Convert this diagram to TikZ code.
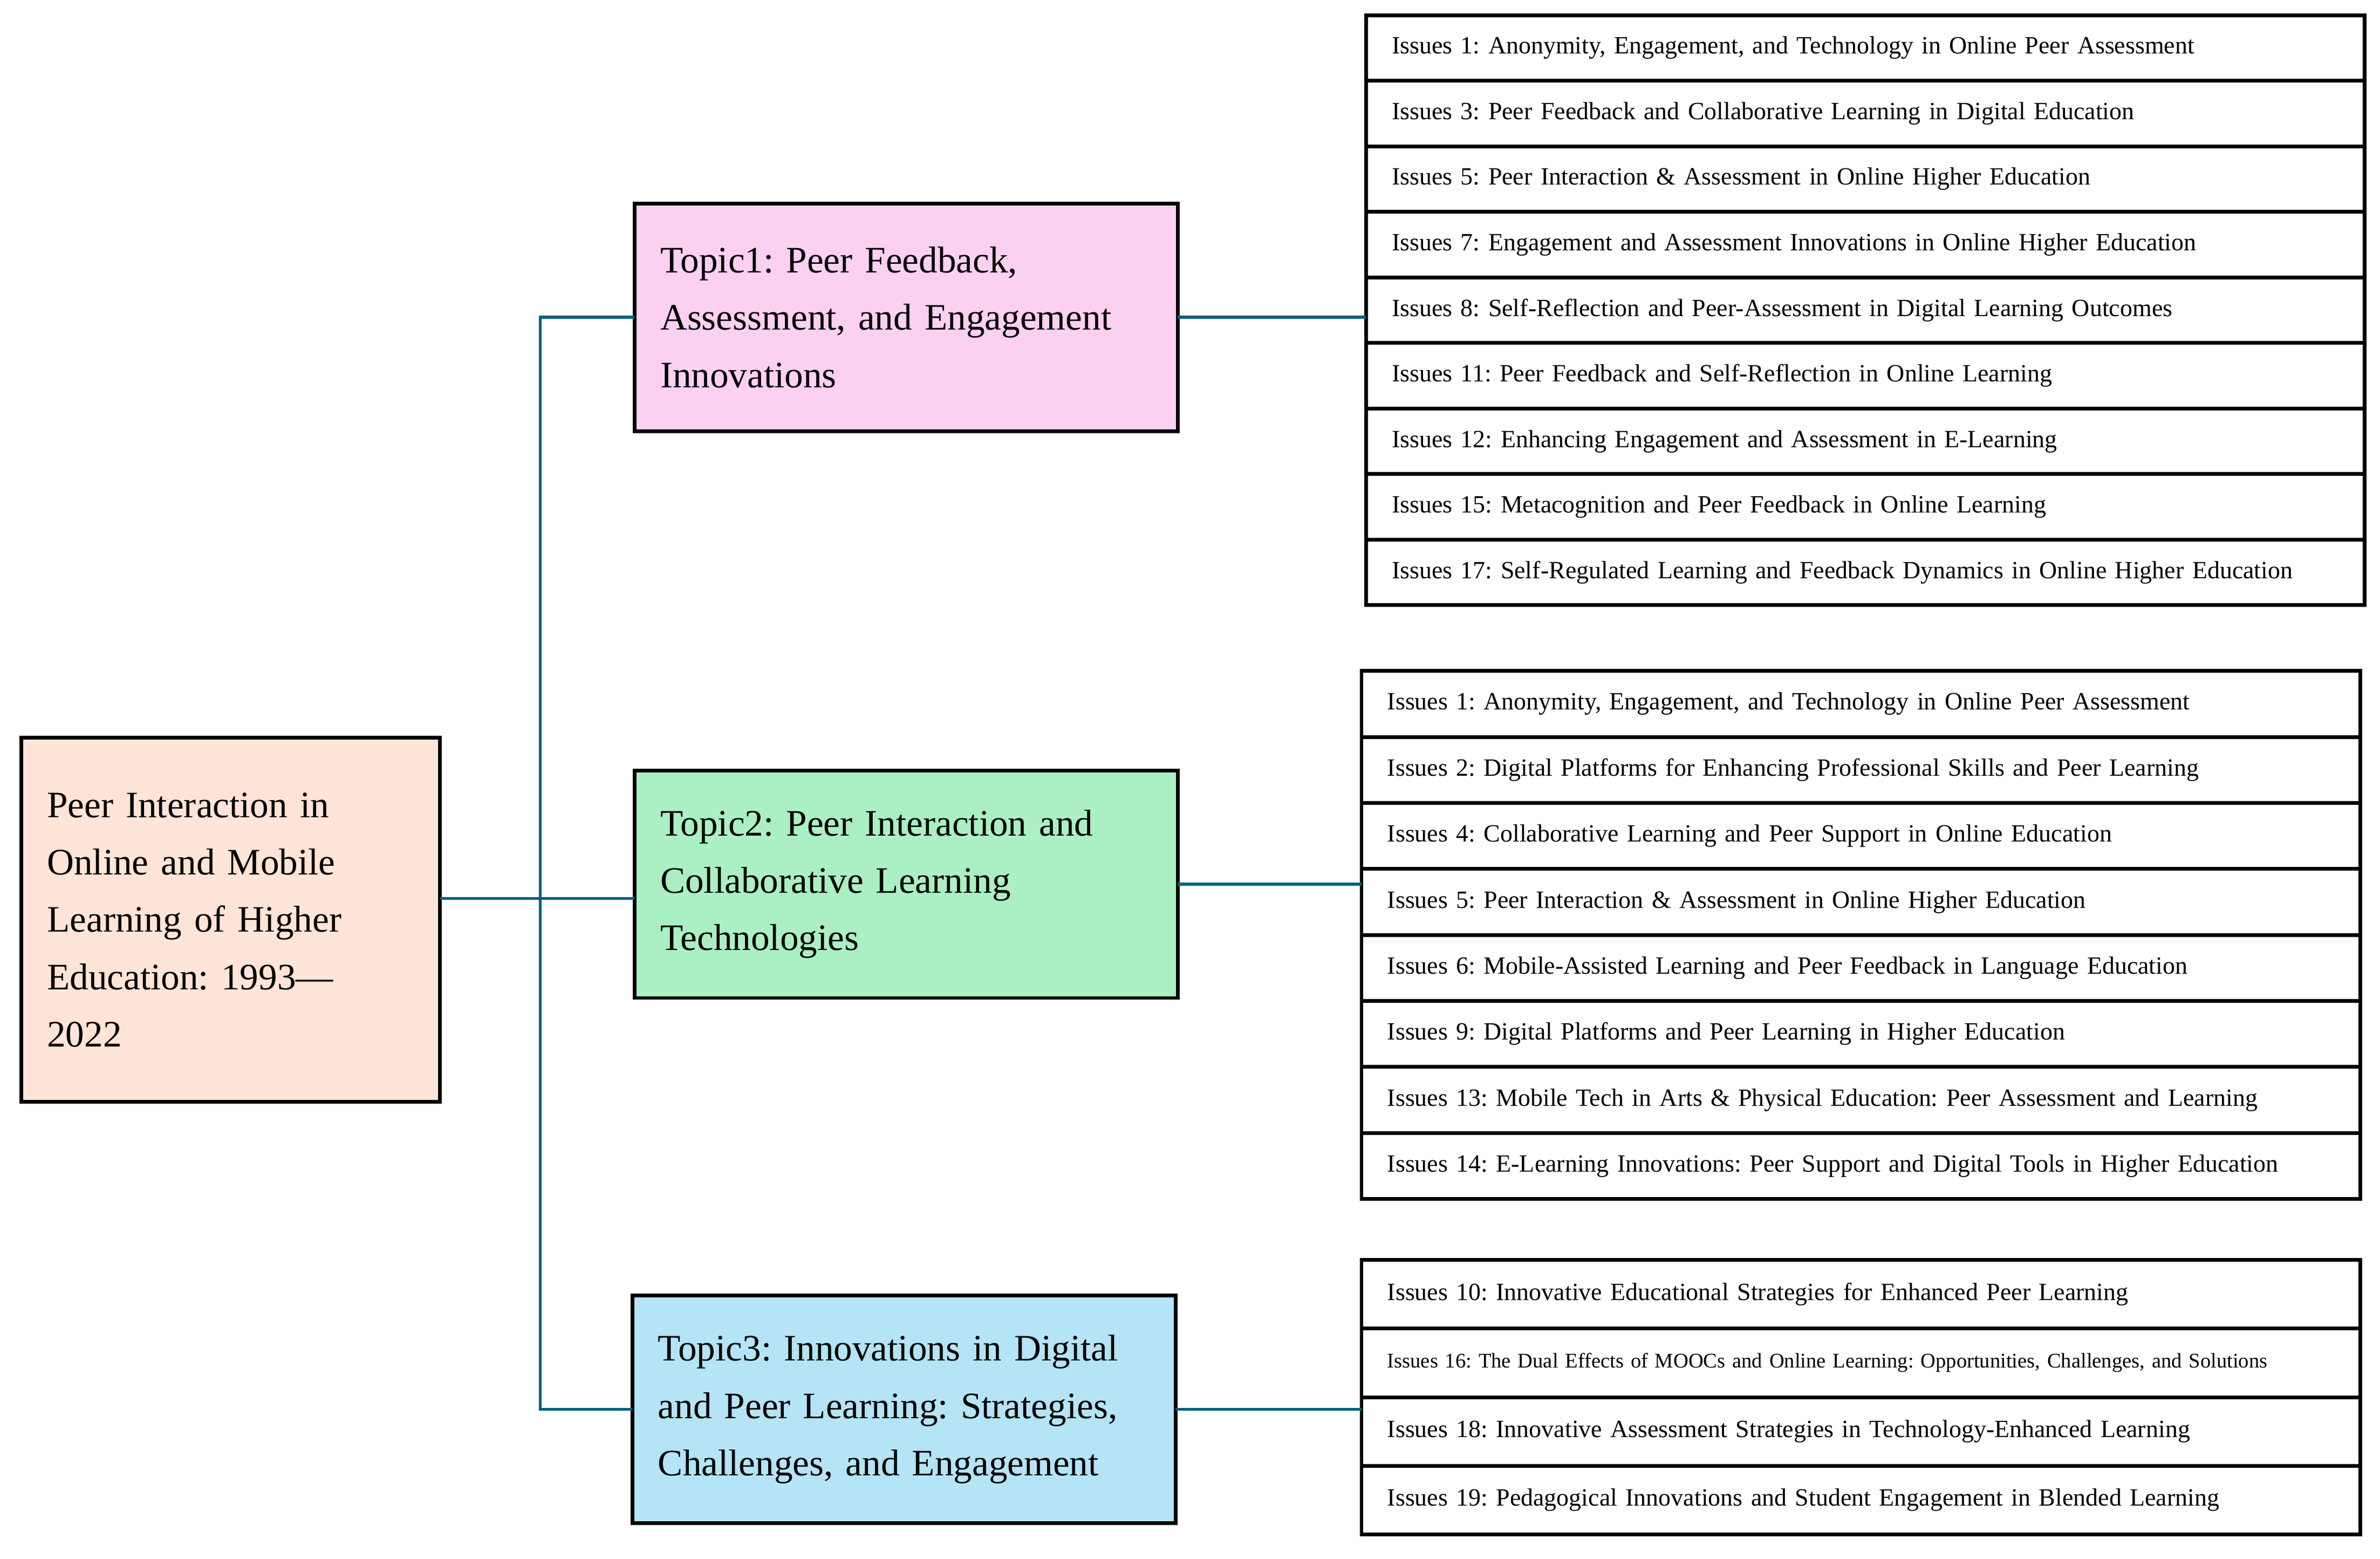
\documentclass[tikz,border=0pt]{standalone}
\usepackage{fontspec}
\setmainfont{Liberation Serif}
\usetikzlibrary{positioning}
\definecolor{rootfill}{RGB}{255,228,215}
\definecolor{onefill}{RGB}{252,208,240}
\definecolor{twofill}{RGB}{170,240,195}
\definecolor{threefill}{RGB}{180,228,245}
\definecolor{linkblue}{RGB}{0,96,128}
\frenchspacing
\hyphenpenalty=10000

\begin{document}
\begin{tikzpicture}
    [
        x=0.02cm, y=-0.02cm,
        box style/.style={draw, line width=1.4pt, align=left, inner xsep=0.34cm, outer sep=0pt, font=\fontsize{14}{21.5}\selectfont},
        topic style/.style={box style, minimum width=7.16cm, text width=6.48cm, minimum height=3cm},
        row style/.style={draw, line width=1.4pt, outer sep=0pt, inner xsep=0.34cm, inner ysep=0pt, minimum width=13.16cm, text width=12.48cm, align=left, font=\fontsize{9.3}{11}\selectfont},
        link style/.style={linkblue, line width=1.1pt}
    ]
    \useasboundingbox (0,0) rectangle (1568,1027);
    % root and topics
    \node[box style, fill=rootfill, minimum width=5.52cm, text width=4.84cm, minimum height=4.8cm] (root) at (152,606)
        {Peer Interaction in\\Online and Mobile\\Learning of Higher\\Education: 1993---\\2022};
    \node[topic style, fill=onefill] (t1) at (597,209) {Topic1: Peer Feedback,\\Assessment, and Engagement\\Innovations};
    \node[topic style, fill=twofill] (t2) at (597,582.5) {Topic2: Peer Interaction and\\Collaborative Learning\\Technologies};
    \node[topic style, fill=threefill] (t3) at (595.5,928.5) {Topic3: Innovations in Digital\\and Peer Learning: Strategies,\\Challenges, and Engagement};
    % issue lists
    \node[row style, minimum height=0.864cm, anchor=north west] (a1) at (900,10) {Issues 1: Anonymity, Engagement, and Technology in Online Peer Assessment};
    \foreach \n/\p/\txt in {2/1/{Issues 3: Peer Feedback and Collaborative Learning in Digital Education},
        3/2/{Issues 5: Peer Interaction \& Assessment in Online Higher Education},
        4/3/{Issues 7: Engagement and Assessment Innovations in Online Higher Education},
        5/4/{Issues 8: Self-Reflection and Peer-Assessment in Digital Learning Outcomes},
        6/5/{Issues 11: Peer Feedback and Self-Reflection in Online Learning},
        7/6/{Issues 12: Enhancing Engagement and Assessment in E-Learning},
        8/7/{Issues 15: Metacognition and Peer Feedback in Online Learning},
        9/8/{Issues 17: Self-Regulated Learning and Feedback Dynamics in Online Higher Education}}
        \node[row style, minimum height=0.864cm, below=0pt of a\p] (a\n) {\txt};
    \node[row style, minimum height=0.87cm, anchor=north west] (b1) at (897,442) {Issues 1: Anonymity, Engagement, and Technology in Online Peer Assessment};
    \foreach \n/\p/\txt in {2/1/{Issues 2: Digital Platforms for Enhancing Professional Skills and Peer Learning},
        3/2/{Issues 4: Collaborative Learning and Peer Support in Online Education},
        4/3/{Issues 5: Peer Interaction \& Assessment in Online Higher Education},
        5/4/{Issues 6: Mobile-Assisted Learning and Peer Feedback in Language Education},
        6/5/{Issues 9: Digital Platforms and Peer Learning in Higher Education},
        7/6/{Issues 13: Mobile Tech in Arts \& Physical Education: Peer Assessment and Learning},
        8/7/{Issues 14: E-Learning Innovations: Peer Support and Digital Tools in Higher Education}}
        \node[row style, minimum height=0.87cm, below=0pt of b\p] (b\n) {\txt};
    \node[row style, minimum height=0.905cm, anchor=north west] (c1) at (897,830) {Issues 10: Innovative Educational Strategies for Enhanced Peer Learning};
    \node[row style, minimum height=0.905cm, below=0pt of c1, font=\fontsize{7.8}{10}\selectfont] (c2) {Issues 16: The Dual Effects of MOOCs and Online Learning: Opportunities, Challenges, and Solutions};
    \node[row style, minimum height=0.905cm, below=0pt of c2] (c3) {Issues 18: Innovative Assessment Strategies in Technology-Enhanced Learning};
    \node[row style, minimum height=0.905cm, below=0pt of c3] (c4) {Issues 19: Pedagogical Innovations and Student Engagement in Blended Learning};
    % connectors
    \coordinate (trunk) at (356,592);
    \draw[link style] (root.east |- trunk) -- (trunk) -- (trunk -| t2.west);
    \draw[link style] (t1.west) -- (t1.west -| trunk) -- (t3.west -| trunk) -- (t3.west);
    \draw[link style] (t1.east) -- (t1.east -| a1.west);
    \draw[link style] (t2.east) -- (t2.east -| b1.west);
    \draw[link style] (t3.east) -- (t3.east -| c1.west);
\end{tikzpicture}
\end{document}
